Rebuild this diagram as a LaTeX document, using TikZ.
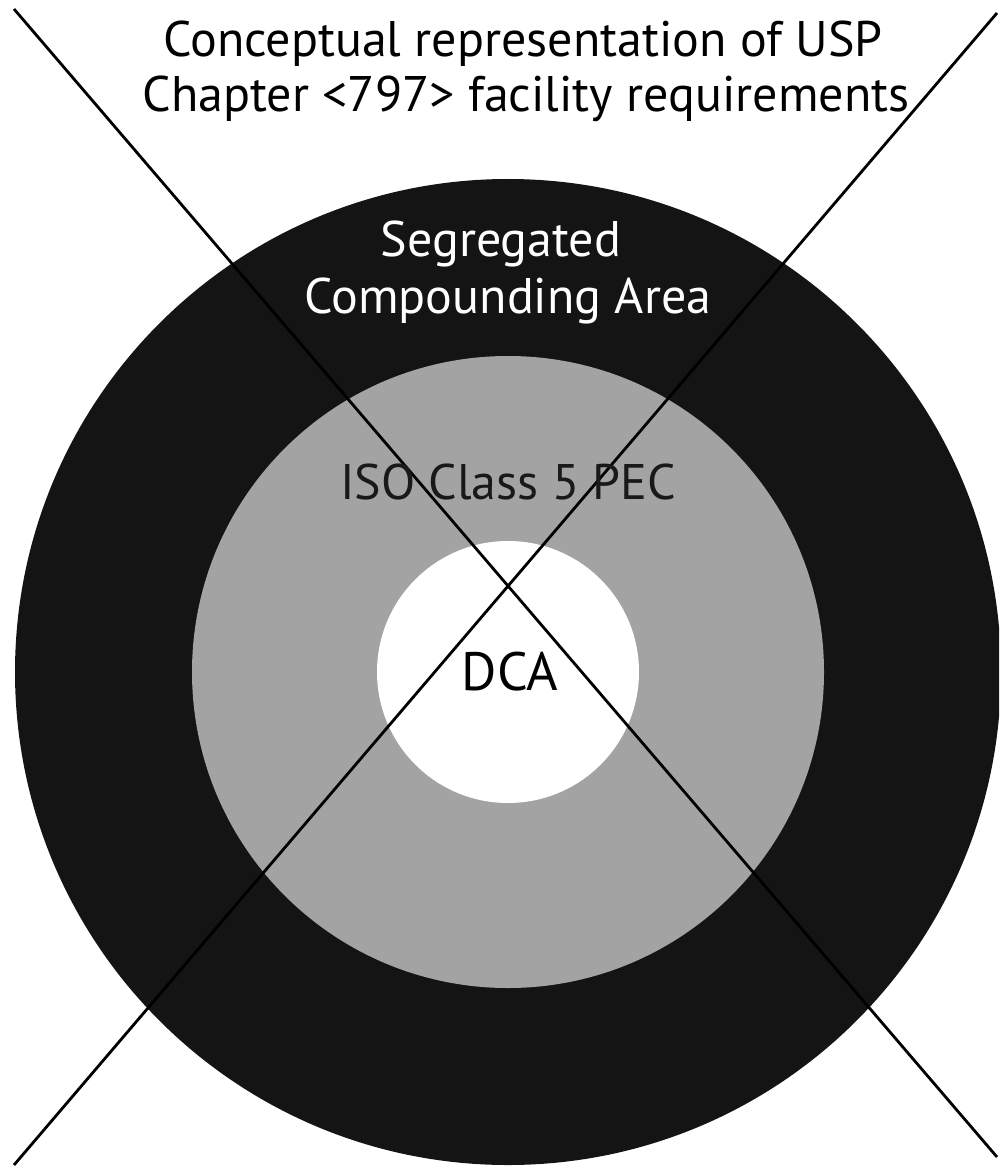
\documentclass[tikz,border=0pt]{standalone}
\usepackage{fontspec}
\setmainfont{PT Sans}
\begin{document}
\begin{tikzpicture}[x=1pt,y=-1pt,
  lbl/.style={anchor=base,inner sep=0pt,font=\fontsize{50}{55}\selectfont},
  diag/.style={line width=2.8pt,black}]
\useasboundingbox (0,0) rectangle (999,1166);
\definecolor{ringdark}{HTML}{141414}
\definecolor{ringgray}{HTML}{A3A3A3}
\begin{scope}
\clip (0,0) rectangle (999,1166);
\fill[ringdark] (508,672) circle[radius=493];
\fill[ringgray] (508,672) circle[radius=316];
\fill[white] (508,672) circle[radius=131];
\coordinate (a1) at (14,9);
\coordinate (a2) at (997,1157);
\coordinate (b1) at (997,13);
\coordinate (b2) at (14,1165);
\draw[diag] (a1) -- (a2);
\draw[diag] (b1) -- (b2);
\end{scope}
\node[lbl] (t1) at (523,57) {Conceptual representation of USP};
\node[lbl] (t2) at (526,112) {Chapter <797> facility requirements};
\node[lbl,white] (s1) at (501,257) {Segregated};
\node[lbl,white] (s2) at (508,313) {Compounding Area};
\node[lbl,black!90] (iso) at (508,499) {ISO Class 5 PEC};
\node[lbl,font=\fontsize{54}{55}\selectfont] (dca) at (510,690) {DCA};
\end{tikzpicture}
\end{document}
